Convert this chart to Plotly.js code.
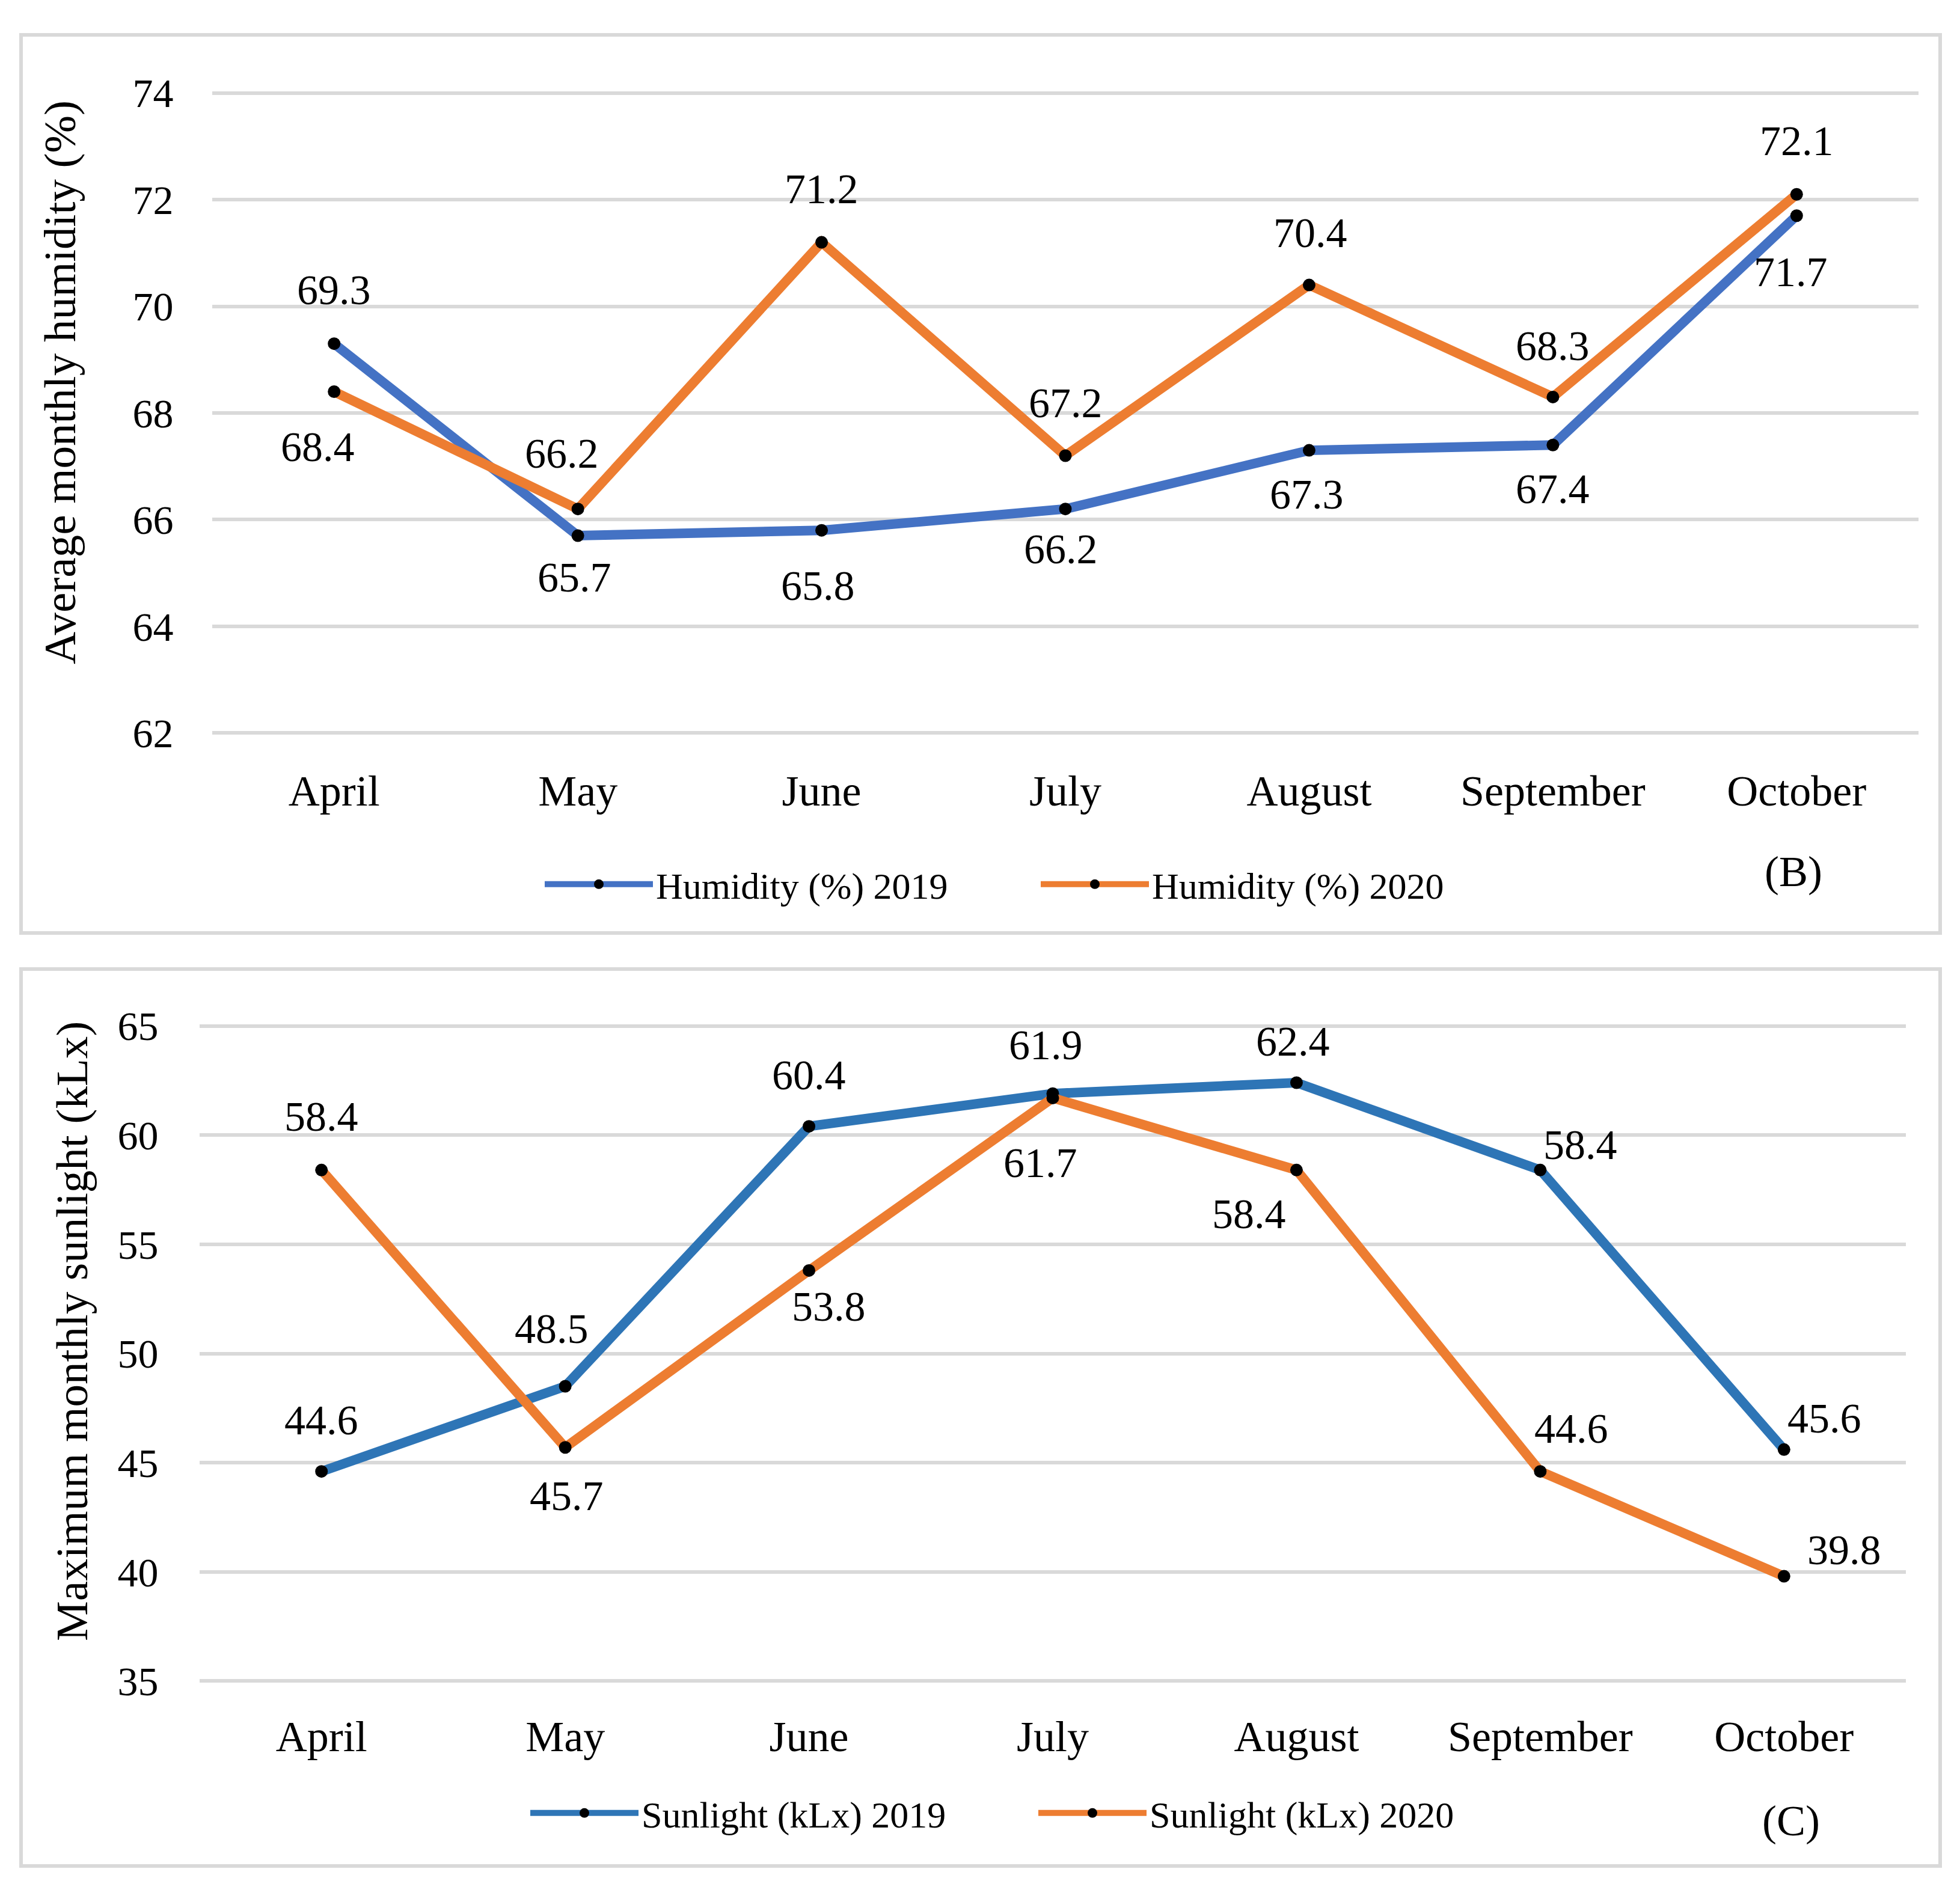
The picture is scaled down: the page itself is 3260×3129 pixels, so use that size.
<!DOCTYPE html>
<html>
<head>
<meta charset="utf-8">
<script src="https://cdn.plot.ly/plotly-3.0.1.min.js"></script>
<style>html,body{margin:0;padding:0;background:#fff;}#chart{width:3260px;height:3129px;}</style>
</head>
<body>
<div id="chart"></div>
<script>
// ---- data ----
const months = ["April", "May", "June", "July", "August", "September", "October"];
const humidity2019 = [69.3, 65.7, 65.8, 66.2, 67.3, 67.4, 71.7];
const humidity2020 = [68.4, 66.2, 71.2, 67.2, 70.4, 68.3, 72.1];
const sunlight2019 = [44.6, 48.5, 60.4, 61.9, 62.4, 58.4, 45.6];
const sunlight2020 = [58.4, 45.7, 53.8, 61.7, 58.4, 44.6, 39.8];
const humidityTicks = [62, 64, 66, 68, 70, 72, 74];
const sunlightTicks = [35, 40, 45, 50, 55, 60, 65];
const humidityTitle = "Average monthly humidity (%)";
const sunlightTitle = "Maximum monthly sunlight (kLx)";

// ---- label placement (pixel offsets from each point) ----
const offH19 = {dx: [0, -6, -6, -8, -4, 0, -10], dy: [-89, 69, 92, 67, 73, 73, 94]};
const offH20 = {dx: [-27, -27, 0, 0, 2, 0, 0], dy: [92, -92, -89, -87, -87, -85, -89]};
const offS19 = {dx: [0, -23, 0, -12, -6, 67, 67], dy: [-85, -96, -85, -81, -69, -42, -52]};
const offS20 = {dx: [0, 2, 33, -21, -79, 52, 100], dy: [-89, 81, 60, 108, 73, -71, -44]};

const FONT = "Liberation Serif, Times New Roman, serif";
const W = 3260, H = 3129;
const px = v => v / W;
const py = v => 1 - v / H;

function line(name, y, color, xa, ya, legend) {
  return {
    type: "scatter", mode: "lines+markers", name: name,
    x: months, y: y, xaxis: xa, yaxis: ya, legend: legend,
    line: {color: color, width: 16},
    marker: {color: "#000000", size: 21},
    hoverinfo: "x+y"
  };
}

const traces = [
  line("Humidity (%) 2019", humidity2019, "#4472C4", "x", "y", "legend"),
  line("Humidity (%) 2020", humidity2020, "#ED7D31", "x", "y", "legend"),
  line("Sunlight (kLx) 2019", sunlight2019, "#2E75B6", "x2", "y2", "legend2"),
  line("Sunlight (kLx) 2020", sunlight2020, "#ED7D31", "x2", "y2", "legend2")
];

function labels(vals, off, xref, yref) {
  return vals.map((v, i) => ({
    x: months[i], y: v, xref: xref, yref: yref,
    text: v.toFixed(1), showarrow: false,
    xanchor: "center", yanchor: "middle",
    xshift: off.dx[i], yshift: -off.dy[i],
    font: {family: FONT, size: 70, color: "#000000"}
  }));
}

const annotations = [].concat(
  labels(humidity2019, offH19, "x", "y"),
  labels(humidity2020, offH20, "x", "y"),
  labels(sunlight2019, offS19, "x2", "y2"),
  labels(sunlight2020, offS20, "x2", "y2"),
  [
    {text: "(B)", xref: "paper", yref: "paper", x: px(2983), y: py(1450), showarrow: false,
     xanchor: "center", yanchor: "middle", font: {family: FONT, size: 72, color: "#000"}},
    {text: "(C)", xref: "paper", yref: "paper", x: px(2979), y: py(3029), showarrow: false,
     xanchor: "center", yanchor: "middle", font: {family: FONT, size: 72, color: "#000"}},
    {text: humidityTitle, xref: "paper", yref: "paper", x: px(100), y: py(636), textangle: -90,
     showarrow: false, xanchor: "center", yanchor: "middle", font: {family: FONT, size: 75, color: "#000"}},
    {text: sunlightTitle, xref: "paper", yref: "paper", x: px(119), y: py(2215), textangle: -90,
     showarrow: false, xanchor: "center", yanchor: "middle", font: {family: FONT, size: 75, color: "#000"}}
  ]
);

function xAxis(domain, anchor, ticklen) {
  return {
    type: "category", domain: domain, anchor: anchor, range: [-0.5, 6.5],
    showgrid: false, showline: false, zeroline: false,
    ticks: "outside", ticklen: ticklen, tickcolor: "rgba(0,0,0,0)",
    tickfont: {family: FONT, size: 72, color: "#000"}, fixedrange: true
  };
}
function yAxis(domain, anchor, range, ticks, ticklen) {
  return {
    domain: domain, anchor: anchor, range: range,
    tickmode: "array", tickvals: ticks, ticktext: ticks.map(String),
    showgrid: true, gridcolor: "#D9D9D9", gridwidth: 6,
    showline: false, zeroline: false,
    ticks: "outside", ticklen: ticklen, tickcolor: "rgba(0,0,0,0)",
    tickfont: {family: FONT, size: 68, color: "#000"},
    fixedrange: true
  };
}

const layout = {
  width: W, height: H,
  margin: {l: 0, r: 0, t: 0, b: 0},
  paper_bgcolor: "#ffffff", plot_bgcolor: "#ffffff",
  showlegend: true,
  xaxis: xAxis([px(353), px(3191)], "y", 31),
  yaxis: yAxis([py(1222), py(152)], "x", [61.97, 74.03], humidityTicks, 50),
  xaxis2: xAxis([px(332), px(3170)], "y2", 27),
  yaxis2: yAxis([py(2799), py(1704)], "x2", [34.93, 65.07], sunlightTicks, 54),
  legend: {
    orientation: "h", x: px(901), y: py(1471), xanchor: "left", yanchor: "middle",
    font: {family: FONT, size: 62, color: "#000"},
    itemwidth: 180, entrywidth: 630, entrywidthmode: "pixels", bgcolor: "rgba(0,0,0,0)"
  },
  legend2: {
    orientation: "h", x: px(877), y: py(3016), xanchor: "left", yanchor: "middle",
    font: {family: FONT, size: 62, color: "#000"},
    itemwidth: 180, entrywidth: 650, entrywidthmode: "pixels", bgcolor: "rgba(0,0,0,0)"
  },
  shapes: [
    {type: "rect", xref: "paper", yref: "paper", x0: px(35), x1: px(3227), y0: py(1552), y1: py(58),
     line: {color: "#D9D9D9", width: 6}, layer: "below"},
    {type: "rect", xref: "paper", yref: "paper", x0: px(35), x1: px(3227), y0: py(3104), y1: py(1612),
     line: {color: "#D9D9D9", width: 6}, layer: "below"}
  ],
  annotations: annotations
};

Plotly.newPlot("chart", traces, layout, {displayModeBar: false, staticPlot: true});
</script>
</body>
</html>
